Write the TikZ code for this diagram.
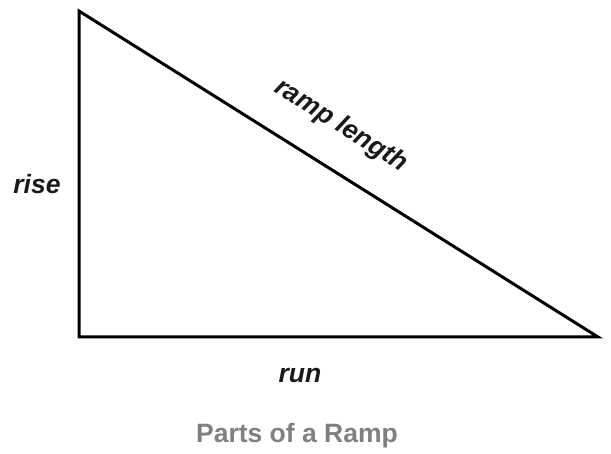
\documentclass[tikz,border=0pt]{standalone}
\usepackage{fontspec}
\setmainfont{Liberation Sans}
\definecolor{titlegray}{HTML}{808080}
\definecolor{labelink}{HTML}{1A1A1A}
\begin{document}
\begin{tikzpicture}[x=1pt,y=-1pt,
  lbl/.style={font=\fontsize{26.5}{31}\selectfont\bfseries\itshape, text=labelink, inner sep=0pt},
  ttl/.style={font=\fontsize{26.5}{31}\selectfont\bfseries, text=titlegray, inner sep=0pt},
  edge/.style={line width=3pt, draw=black}]
\useasboundingbox (0,0) rectangle (611,454);
\coordinate (top) at (79,11);
\coordinate (bl) at (79,337);
\coordinate (br) at (598,337);
\draw[edge] (top) -- (bl) -- (br) -- cycle;
\node[lbl] (rise) at (37,184) {rise};
\node[lbl] (run) at (300,375) {run};
\node[lbl, rotate=-32.1] (ramp) at (341,126) {ramp length};
\node[ttl] (title) at (297,436) {Parts of a Ramp};
\end{tikzpicture}
\end{document}
